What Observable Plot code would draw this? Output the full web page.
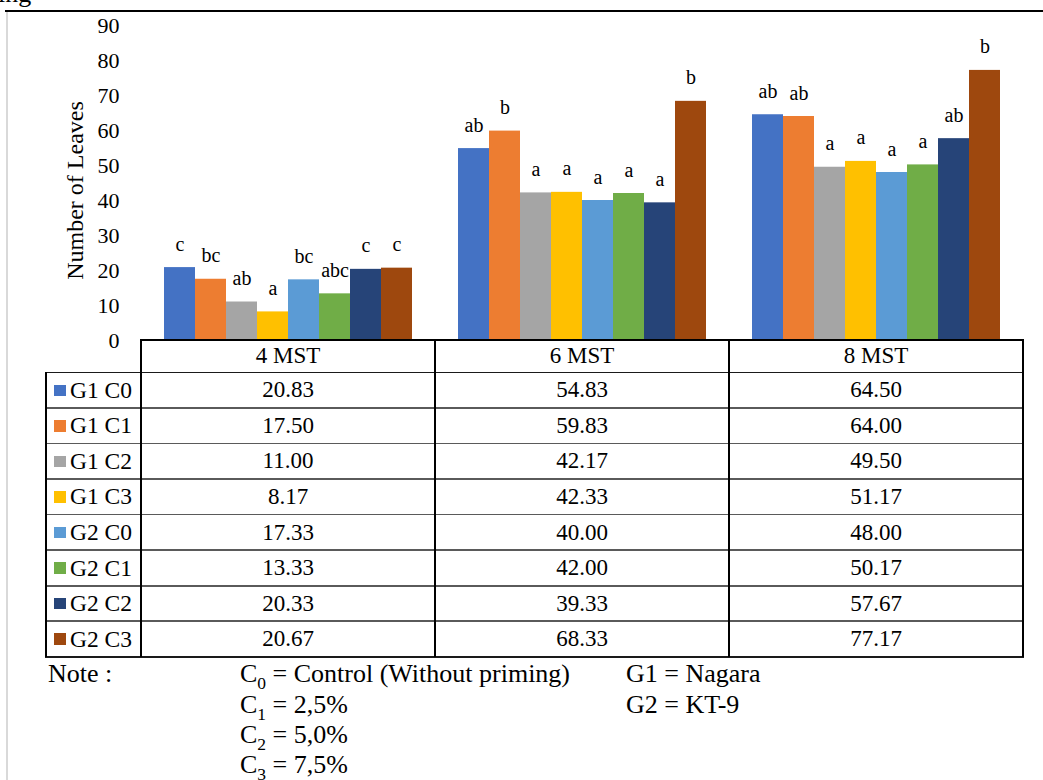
<!DOCTYPE html>
<html>
<head>
<meta charset="utf-8">
<script src="https://cdn.jsdelivr.net/npm/d3@7"></script>
<script src="https://cdn.jsdelivr.net/npm/@observablehq/plot@0.6"></script>
<style>
  html, body { margin: 0; padding: 0; background: #fff; }
  #page { position: relative; width: 1043px; height: 780px; overflow: hidden;
          font-family: "Liberation Serif", "Times New Roman", serif; color: #000; }
  #chart { position: absolute; left: 0; top: 0; }
  #chart svg, #chart svg text { font-family: "Liberation Serif", "Times New Roman", serif !important; }
  .ln { position: absolute; }
  .cell { position: absolute; display: flex; align-items: center; justify-content: center;
          white-space: nowrap; font-size: 23px; font-family: "Liberation Serif", serif; }
  .lab { position: absolute; display: flex; align-items: center; white-space: nowrap;
         font-size: 23.5px; font-family: "Liberation Serif", serif; }
  .sw { position: absolute; width: 11.5px; height: 11.5px; }
  #notes { position: absolute; left: 0; top: 0; font-family: "Liberation Serif", serif; }
</style>
</head>
<body>
<div id="page">
  <div id="chart"></div>
  <div id="table"></div>
  <svg id="notes" width="1043" height="780"></svg>
</div>
<script>
// Sampling times (columns of the table, groups of bars)
const periods = ["4 MST", "6 MST", "8 MST"];

// Treatments: genotype (G1, G2) x priming concentration (C0..C3)
const treatments = ["G1 C0", "G1 C1", "G1 C2", "G1 C3", "G2 C0", "G2 C1", "G2 C2", "G2 C3"];
const colors = ["#4472C4", "#ED7D31", "#A5A5A5", "#FFC000", "#5B9BD5", "#70AD47", "#264478", "#9E480E"];

// Mean number of leaves per treatment at 4, 6 and 8 MST
const g1c0 = [20.83, 54.83, 64.50];
const g1c1 = [17.50, 59.83, 64.00];
const g1c2 = [11.00, 42.17, 49.50];
const g1c3 = [8.17, 42.33, 51.17];
const g2c0 = [17.33, 40.00, 48.00];
const g2c1 = [13.33, 42.00, 50.17];
const g2c2 = [20.33, 39.33, 57.67];
const g2c3 = [20.67, 68.33, 77.17];
const series = [g1c0, g1c1, g1c2, g1c3, g2c0, g2c1, g2c2, g2c3];

// Significance letters, one list per sampling time (treatment order)
const letters4 = ["c", "bc", "ab", "a", "bc", "abc", "c", "c"];
const letters6 = ["ab", "b", "a", "a", "a", "a", "a", "b"];
const letters8 = ["ab", "ab", "a", "a", "a", "a", "ab", "b"];
const letters = [letters4, letters6, letters8];

// Axis
const yTicks = [0, 10, 20, 30, 40, 50, 60, 70, 80, 90];
const yTitle = "Number of Leaves";

// Notes under the table
const noteHead = "Note :";
const noteC = [["0", "Control (Without priming)"], ["1", "2,5%"], ["2", "5,0%"], ["3", "7,5%"]];
const noteG = ["G1 = Nagara", "G2 = KT-9"];

// Layout
const W = 1043;
const LEFT = 141, RIGHT = 1023;           // plot / table column span
const Y0 = 340, Y90 = 25;                 // pixel rows of 0 and 90
const HEAD_H = 32.5, ROW_H = 35.56;
const LABEL_LEFT = 45;

const rows = [];
treatments.forEach((t, i) => {
  periods.forEach((p, j) => {
    rows.push({period: p, treatment: t, value: series[i][j], letter: letters[j][i]});
  });
});

const serif = "'Liberation Serif', 'Times New Roman', serif";
const chart = Plot.plot({
  width: W,
  height: Y0 + 5,
  marginLeft: LEFT,
  marginRight: W - RIGHT,
  marginTop: Y90,
  marginBottom: 5,
  style: {fontFamily: serif, fontSize: "22px", color: "#000", background: "transparent", overflow: "visible"},
  fx: {domain: periods, padding: 0, axis: null},
  x: {domain: treatments, paddingInner: 0, paddingOuter: 0.72, axis: null},
  y: {domain: [0, 90], ticks: yTicks, tickSize: 0, tickPadding: 22, label: null},
  color: {domain: treatments, range: colors},
  marks: [
    Plot.barY(rows, {fx: "period", x: "treatment", y: "value", fill: "treatment"}),
    Plot.text(rows, {fx: "period", x: "treatment", y: "value", text: "letter",
                     lineAnchor: "bottom", dy: -17, fontSize: 20, fill: "#000", fontFamily: serif}),
    Plot.text([{p: periods[0]}], {fx: "p", text: () => yTitle, frameAnchor: "left", textAnchor: "middle",
                     rotate: -90, lineAnchor: "top", dx: -76, dy: 7.5, fontSize: 24, fill: "#000", fontFamily: serif})
  ]
});
document.getElementById("chart").appendChild(chart);

// ---- data table under the chart ----
const tbl = document.getElementById("table");
const colW = (RIGHT - LEFT) / periods.length;
const rowTop = Y0 + HEAD_H;
const tableBottom = rowTop + ROW_H * treatments.length;

function line(x, y, w, h, color) {
  const d = document.createElement("div");
  d.className = "ln";
  Object.assign(d.style, {left: x + "px", top: y + "px", width: w + "px", height: h + "px", background: color});
  tbl.appendChild(d);
}
function cell(cls, x, y, w, h, text) {
  const d = document.createElement("div");
  d.className = cls;
  Object.assign(d.style, {left: x + "px", top: y + "px", width: w + "px", height: h + "px"});
  d.textContent = text;
  tbl.appendChild(d);
  return d;
}

periods.forEach((p, j) => cell("cell", LEFT + j * colW, Y0, colW, HEAD_H, p));
treatments.forEach((t, i) => {
  const y = rowTop + i * ROW_H;
  const sw = document.createElement("div");
  sw.className = "sw";
  Object.assign(sw.style, {left: "54px", top: (y + ROW_H / 2 - 5.75) + "px", background: colors[i]});
  tbl.appendChild(sw);
  cell("lab", 70, y, LEFT - 70, ROW_H, t);
  periods.forEach((p, j) => cell("cell", LEFT + j * colW, y, colW, ROW_H, series[i][j].toFixed(2)));
});

// horizontal rules
line(LEFT, Y0 - 1, RIGHT - LEFT + 1, 1.6, "#000");
for (let k = 0; k <= treatments.length; k++) {
  const y = rowTop + k * ROW_H - 1;
  const edge = k === 0 || k === treatments.length;
  line(LABEL_LEFT, y, RIGHT - LABEL_LEFT + 1, 1.7, edge ? "#1a1a1a" : "#5a5a5a");
}
// vertical rules
line(LABEL_LEFT, rowTop - 1, 1.7, tableBottom - rowTop + 1, "#000");
for (let j = 0; j <= periods.length; j++) {
  line(LEFT + j * colW - 1, Y0 - 1, 1.7, tableBottom - Y0 + 1, "#000");
}

// page rules around the figure
line(5, 10, W - 5, 1.6, "#000");
line(6, 12, 2, 780, "#d9d9d9");

// ---- notes ----
const svg = d3.select("#notes");
svg.append("text").attr("x", -2).attr("y", 2).attr("font-size", 26).text("ing");
const ng = svg.append("g").attr("font-size", 26).attr("fill", "#000");
ng.append("text").attr("x", 48).attr("y", 682).text(noteHead);
const baselines = [682, 713, 743, 773];
noteC.forEach(([sub, rest], i) => {
  const t = ng.append("text").attr("x", 240).attr("y", baselines[i]);
  t.append("tspan").text("C");
  t.append("tspan").attr("font-size", 17.5).attr("dy", 7).text(sub);
  t.append("tspan").attr("dy", -7).text(" = " + rest);
});
noteG.forEach((g, i) => ng.append("text").attr("x", 626).attr("y", baselines[i]).text(g));
</script>
</body>
</html>
